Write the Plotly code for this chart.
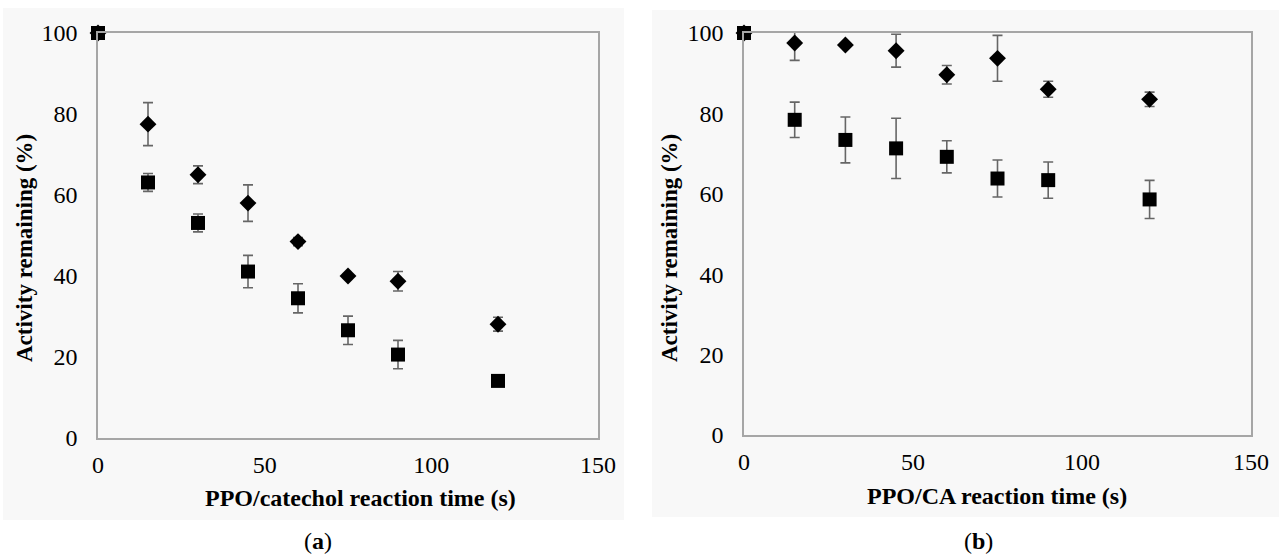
import plotly.graph_objects as go

# ---- data ----
time_a = [0, 15, 30, 45, 60, 75, 90, 120]
diamond_a = [100, 77.5, 65.0, 58.0, 48.5, 40.0, 38.7, 28.1]
diamond_a_err = [0, 5.3, 2.2, 4.5, 1.0, 0.5, 2.4, 1.7]
square_a = [100, 63.1, 53.1, 41.1, 34.5, 26.6, 20.6, 14.1]
square_a_err = [0, 2.2, 2.2, 4.0, 3.6, 3.5, 3.5, 0.3]

time_b = [0, 15, 30, 45, 60, 75, 90, 120]
diamond_b = [100, 97.5, 97.0, 95.6, 89.6, 93.7, 86.0, 83.5]
diamond_b_err = [0, 4.3, 0.5, 4.1, 2.3, 5.7, 2.0, 1.8]
square_b = [100, 78.4, 73.4, 71.3, 69.2, 63.8, 63.4, 58.6]
square_b_err = [0, 4.4, 5.7, 7.5, 4.0, 4.6, 4.5, 4.75]

x_ticks = [0, 50, 100, 150]
y_ticks = [0, 20, 40, 60, 80, 100]
y_title = "Activity remaining (%)"
x_title_a = "PPO/catechol reaction time (s)"
x_title_b = "PPO/CA reaction time (s)"

W, H = 1279, 558
FONT = "Liberation Serif"
ERRC = "#666666"
AXC = "#a6a6a6"

def px(x):
    return x / W

def py(y):
    return (H - y) / H

fig = go.Figure()

def add_series(x, y, err, symbol, size, xa, ya):
    fig.add_trace(go.Scatter(
        x=x, y=y, mode="markers", xaxis=xa, yaxis=ya,
        marker=dict(symbol=symbol, size=size, color="black"),
        error_y=dict(type="data", array=err, visible=True, color=ERRC,
                     thickness=1.6, width=5),
        cliponaxis=False, showlegend=False))

add_series(time_a, diamond_a, diamond_a_err, "diamond", 13, "x", "y")
add_series(time_a, square_a, square_a_err, "square", 14, "x", "y")
add_series(time_b, diamond_b, diamond_b_err, "diamond", 13, "x2", "y2")
add_series(time_b, square_b, square_b_err, "square", 14, "x2", "y2")

axis_common = dict(showline=True, linecolor=AXC, linewidth=1.5, mirror=True,
                   showgrid=False, zeroline=False, ticks="", automargin=False,
                   tickfont=dict(family=FONT, size=24, color="black"))

fig.update_layout(
    width=W, height=H, margin=dict(l=0, r=0, t=0, b=0),
    paper_bgcolor="white", plot_bgcolor="rgba(0,0,0,0)",
    xaxis=dict(domain=[px(98), px(598)], range=[0, 150], tickvals=x_ticks,
               anchor="y", ticklabelstandoff=4, **axis_common),
    yaxis=dict(domain=[py(438), py(33)], range=[0, 100], tickvals=y_ticks,
               anchor="x", ticklabelstandoff=14, **axis_common),
    xaxis2=dict(domain=[px(744), px(1251)], range=[0, 150], tickvals=x_ticks,
                anchor="y2", ticklabelstandoff=4, **axis_common),
    yaxis2=dict(domain=[py(435), py(33)], range=[0, 100], tickvals=y_ticks,
                anchor="x2", ticklabelstandoff=14, **axis_common),
)

# panel backgrounds
fig.add_shape(type="rect", xref="paper", yref="paper", layer="below",
              x0=px(3), x1=px(624), y0=py(520), y1=py(8),
              fillcolor="#f8f8f8", line=dict(width=0))
fig.add_shape(type="rect", xref="paper", yref="paper", layer="below",
              x0=px(652), x1=px(1279), y0=py(517), y1=py(10),
              fillcolor="#f8f8f8", line=dict(width=0))

def ann(text, x, y, size=24, bold=True, angle=0):
    fig.add_annotation(text=f"<b>{text}</b>" if bold else text,
                       xref="paper", yref="paper", x=px(x), y=py(y),
                       showarrow=False, textangle=angle,
                       xanchor="center", yanchor="middle",
                       font=dict(family=FONT, size=size, color="black"))

ann(y_title, 24, 248, size=23, angle=-90)
ann(y_title, 669, 248, size=23, angle=-90)
ann(x_title_a, 360, 498)
ann(x_title_b, 997, 496)
ann("(<b>a</b>)", 318, 541, bold=False)
ann("(<b>b</b>)", 978, 541, bold=False)

fig.write_html("out.html", config={"displayModeBar": False},
               post_script="document.body.style.margin='0';document.body.style.overflow='hidden';")
